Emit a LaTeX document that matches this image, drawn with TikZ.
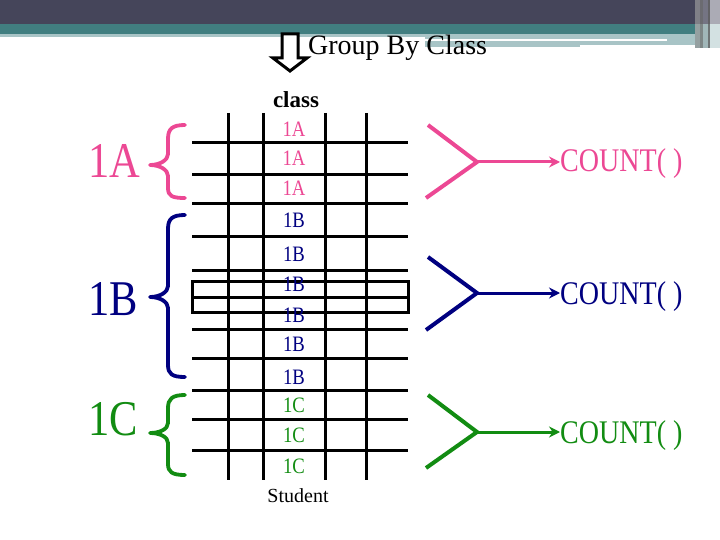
\documentclass[tikz,border=0pt]{standalone}
\usepackage{fontspec}
\setmainfont{Liberation Serif}
\newfontfamily\cond[FakeStretch=0.85]{Liberation Serif}
\usetikzlibrary{arrows.meta}
\definecolor{pinkc}{RGB}{236,72,148}
\definecolor{navyc}{RGB}{0,0,128}
\definecolor{greenc}{RGB}{18,140,18}
\definecolor{bandDark}{RGB}{69,69,90}
\definecolor{bandTeal}{RGB}{65,126,128}
\definecolor{bandLight}{RGB}{168,196,198}
\begin{document}
\begin{tikzpicture}[x=1pt,y=-1pt,
  gridline/.style={line width=3pt,line cap=butt},
  cell/.style={inner sep=0pt,anchor=base,font=\cond\fontsize{22}{26}\selectfont},
  biglabel/.style={inner sep=0pt,anchor=base west,font=\cond\fontsize{50}{56}\selectfont},
  countlabel/.style={inner sep=0pt,anchor=base west,font=\cond\fontsize{33}{38}\selectfont},
  bracepath/.style={line width=3.8pt,line cap=round,line join=round},
  forkarm/.style={line width=4pt},
  forkarrow/.style={line width=3pt,-{Stealth[length=11pt,width=11pt]}}]
\useasboundingbox (0,0) rectangle (720,540);
% banner
\fill[bandDark] (0,0) rectangle (720,24);
\fill[bandTeal] (0,24) rectangle (720,34);
\fill[bandLight] (0,34) rectangle (700,37);
\fill[bandLight] (425,37) rectangle (700,45);
\fill[bandLight] (425,45) rectangle (580,47);
\fill[white] (425,39) rectangle (667,41.5);
\fill[bandLight!80!gray] (695,24) rectangle (720,48);
\fill[bandDark!75!white] (695,0) rectangle (720,24);
\fill[black!45,opacity=0.5] (695,0) rectangle (700,48);
\fill[black!60,opacity=0.6] (700,0) rectangle (703,48);
\fill[black!65,opacity=0.7] (708,0) rectangle (710,48);
\fill[bandDark!45!white] (710,0) rectangle (720,24);
\fill[bandLight!50!white] (710,24) rectangle (720,48);
% group by arrow + title
\draw[line width=3pt,fill=white,line join=miter] (282,34) -- (298,34) -- (298,58) -- (307,58) -- (290,71) -- (273,58) -- (282,58) -- cycle;
\node[inner sep=0pt,anchor=base west,font=\fontsize{28}{32}\selectfont] (title) at (308,55) {Group By Class};
% column header and footer
\node[inner sep=0pt,anchor=base,font=\bfseries\fontsize{23}{27}\selectfont] (hdr) at (296,108) {class};
\node[inner sep=0pt,anchor=base,font=\fontsize{20}{24}\selectfont] (ftr) at (298,502) {Student};
% table grid
\foreach \yy in {143,175,204,236,270,329,358,390,419,450}
  \draw[gridline] (192,\yy) -- (408,\yy);
\foreach \xx in {228,263,325,366}
  \draw[gridline] (\xx,113) -- (\xx,480);
\draw[gridline] (192,281) rectangle (408,312);
\draw[gridline] (192,297) -- (408,297);
% cell values
\node[cell,text=pinkc] (a1) at (294,137) {1A};
\node[cell,text=pinkc] (a2) at (294,166) {1A};
\node[cell,text=pinkc] (a3) at (294,196) {1A};
\node[cell,text=navyc] (b1) at (294,227) {1B};
\node[cell,text=navyc] (b2) at (294,261) {1B};
\node[cell,text=navyc] (b3) at (294,291) {1B};
\node[cell,text=navyc] (b4) at (294,322) {1B};
\node[cell,text=navyc] (b5) at (294,351) {1B};
\node[cell,text=navyc] (b6) at (294,384) {1B};
\node[cell,text=greenc] (c1) at (294,412) {1C};
\node[cell,text=greenc] (c2) at (294,442) {1C};
\node[cell,text=greenc] (c3) at (294,473) {1C};
% big labels
\node[biglabel,text=pinkc] (LA) at (88,178) {1A};
\node[biglabel,text=navyc] (LB) at (88,315) {1B};
\node[biglabel,text=greenc] (LC) at (88,435) {1C};
% braces
\draw[bracepath,pinkc] (185,125) .. controls (172,125) and (168,129) .. (168,139) -- (168,154)
  .. controls (168,160) and (160,165) .. (150,165) .. controls (160,165) and (168,170) .. (168,176)
  -- (168,188) .. controls (168,196) and (172,198) .. (185,198);
\draw[bracepath,navyc] (185,215) .. controls (172,215) and (168,219) .. (168,229) -- (168,286)
  .. controls (168,292) and (160,297) .. (150,297) .. controls (160,297) and (168,302) .. (168,308)
  -- (168,365) .. controls (168,374) and (172,377) .. (185,377);
\draw[bracepath,greenc] (185,395) .. controls (172,395) and (168,399) .. (168,408) -- (168,423)
  .. controls (168,429) and (160,433) .. (150,433) .. controls (160,433) and (168,437) .. (168,443)
  -- (168,464) .. controls (168,472) and (172,475) .. (185,475);
% forks and COUNT
\coordinate (pu) at (428,125); \coordinate (pl) at (426,198); \coordinate (pj) at (477,162);
\coordinate (nu) at (428,257); \coordinate (nl) at (426,330); \coordinate (nj) at (477,293);
\coordinate (gu) at (428,395); \coordinate (gl) at (426,468); \coordinate (gj) at (477,432);
\node[countlabel,text=pinkc] (pc) at (560,172) {COUNT( )};
\node[countlabel,text=navyc] (nc) at (560,304) {COUNT( )};
\node[countlabel,text=greenc] (gc) at (560,443) {COUNT( )};
\draw[forkarm,pinkc] (pu) -- (pj) -- (pl);
\draw[forkarm,navyc] (nu) -- (nj) -- (nl);
\draw[forkarm,greenc] (gu) -- (gj) -- (gl);
\draw[forkarrow,pinkc] (pj) -- (pj -| pc.west);
\draw[forkarrow,navyc] (nj) -- (nj -| nc.west);
\draw[forkarrow,greenc] (gj) -- (gj -| gc.west);
\end{tikzpicture}
\end{document}
